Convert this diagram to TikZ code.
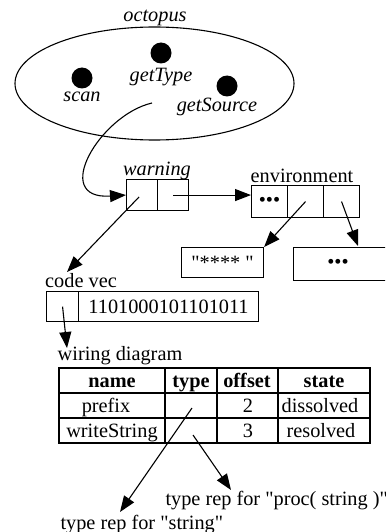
\documentclass[tikz,border=0pt]{standalone}
\usepackage{fontspec}
\setmainfont{Liberation Serif}[Ligatures=TeXOff]
\usetikzlibrary{arrows.meta,shapes.geometric}

\begin{document}
\begin{tikzpicture}[x=1pt,y=-1pt,
  font=\fontsize{20.3}{24}\selectfont,
  line width=1.1pt,
  tip/.style={-{Triangle[length=16pt,width=12pt]}},
  box/.style={draw,rectangle,inner sep=0pt,anchor=north west},
  lbl/.style={inner sep=0pt,anchor=base},
  it/.style={lbl,font=\fontsize{20.3}{24}\selectfont\itshape},
  hd/.style={lbl,font=\fontsize{20.3}{24}\selectfont\bfseries},
  blob/.style={circle,fill,inner sep=0pt,minimum size=21pt}]

\clip (0,0) rectangle (385,532);
\useasboundingbox (0,0) rectangle (385,532);

% the octopus and its exported names
\node[draw,ellipse,minimum width=279pt,minimum height=113pt,inner sep=0pt] (oct) at (154.5,83.5) {};
\node[it] (octlbl) at (155,22) {octopus};
\node[blob] (scandot) at (82,78) {};
\node[blob] (typedot) at (161,53) {};
\node[blob] (srcdot) at (227,86) {};
\node[it] (scan) at (82,102) {scan};
\node[it] (gettype) at (161,82) {getType};
\node[it] (getsource) at (217,112) {getSource};
\coordinate (curvestart) at (152,103);

% warning record
\node[it] (warnlbl) at (157,175) {warning};
\node[box,minimum width=31pt,minimum height=31pt] (w1) at (126,179) {};
\node[box,minimum width=31pt,minimum height=31pt] (w2) at (157,179) {};

% environment record
\node[lbl] (envlbl) at (302,182) {environment};
\node[box,minimum width=36pt,minimum height=32pt] (e1) at (251,185) {};
\node[box,minimum width=36pt,minimum height=32pt] (e2) at (287,185) {};
\node[box,minimum width=36pt,minimum height=32pt] (e3) at (323,185) {};
\node at (e1.center) {•••};

\node[box,minimum width=82pt,minimum height=30pt] (strbox) at (181,247) {};
\node at (strbox.center) {"**** "};
\node[box,minimum width=110pt,minimum height=33pt] (dotbox) at (293,247) {};
\node at (338,263.5) {•••};

% code vector
\node[lbl] (cvlbl) at (81,287) {code vec};
\node[box,minimum width=32pt,minimum height=30pt] (c1) at (46,291) {};
\node[box,minimum width=180pt,minimum height=30pt] (c2) at (78,291) {};
\node[lbl] (bits) at (c2.center |- 0,313) {1101000101101011};

% wiring diagram table
\node[lbl] (wirelbl) at (120,360) {wiring diagram};
\draw[line width=1.5pt] (59,368) rectangle (370,443);
\draw[line width=1.5pt] (59,393) -- (370,393);
\draw (59,418) -- (370,418);
\draw[line width=1.5pt] (165,368) -- (165,443) (217,368) -- (217,443) (278,368) -- (278,443);
\node[hd] (hname) at (112,387) {name};
\node[hd] (htype) at (191,387) {type};
\node[hd] (hoff) at (247,387) {offset};
\node[hd] (hstate) at (324,387) {state};
\node[lbl] (r1name) at (106,412) {prefix};
\node[lbl] (r1off) at (248,412) {2};
\node[lbl] (r1state) at (320,412) {dissolved};
\node[lbl] (r2name) at (112,437) {writeString};
\node[lbl] (r2off) at (248,437) {3};
\node[lbl] (r2state) at (321,437) {resolved};
\coordinate (t1) at (192,408);
\coordinate (t2) at (193,435);

\node[lbl,anchor=base west] (procrep) at (165,505) {type rep for "proc( string )"};
\node[lbl,anchor=base west] (strrep) at (60,529) {type rep for "string"};

% connectors
\draw[tip] (curvestart) .. controls (100,115) and (50,200) .. (w1.west);
\coordinate (cvtip) at (67,272);
\draw[tip] (139,197) -- (cvtip);
\draw[tip] (w2.center) -- (w2.center -| e1.west);
\draw[tip] (e2.center) -- (strbox.north east);
\coordinate (dottip) at (358,246);
\draw[tip] (e3.center) -- (dottip);
\coordinate (wiretip) at (67,348);
\draw[tip] (c1.center) -- (wiretip);
\coordinate (strtip) at (120,512);
\coordinate (proctip) at (231,490);
\draw[tip] (t1) -- (strtip);
\draw[tip] (t2) -- (proctip);
\end{tikzpicture}
\end{document}
